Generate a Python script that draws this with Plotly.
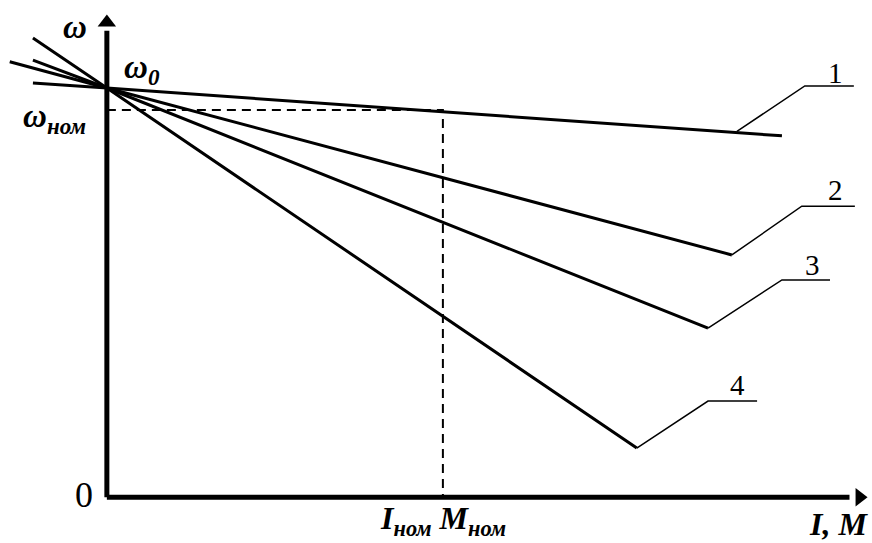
import plotly.graph_objects as go

# characteristic lines (I in units of I_nom, omega in units of omega_0)
line_I = {
    "1": [-0.22, 0.0, 2.009],
    "2": [-0.289, 0.0, 1.860],
    "3": [-0.22, 0.0, 1.789],
    "4": [-0.22, 0.0, 1.577],
}
line_w = {
    "1": [1.012, 1.0, 0.883],
    "2": [1.064, 1.0, 0.592],
    "3": [1.068, 1.0, 0.413],
    "4": [1.122, 1.0, 0.120],
}
# leader lines to the curve numbers
leader_I = {
    "1": [1.875, 2.077, 2.223],
    "2": [1.860, 2.068, 2.226],
    "3": [1.789, 2.009, 2.152],
    "4": [1.577, 1.789, 1.935],
}
leader_w = {
    "1": [0.894, 1.005, 1.005],
    "2": [0.592, 0.711, 0.711],
    "3": [0.413, 0.531, 0.531],
    "4": [0.120, 0.235, 0.235],
}
label_pos = {"1": (2.167, 1.037), "2": (2.167, 0.751), "3": (2.101, 0.567), "4": (1.878, 0.274)}

I_nom = 1.0
w_nom = 0.946
I_max = 2.24
w_max = 1.16

FONT = "Liberation Serif"

fig = go.Figure()

# axes
fig.add_trace(go.Scatter(x=[0, 0], y=[0, w_max - 0.02], mode="lines",
                         line=dict(color="black", width=5), showlegend=False, hoverinfo="skip"))
fig.add_trace(go.Scatter(x=[0, I_max - 0.03], y=[0, 0], mode="lines",
                         line=dict(color="black", width=5), showlegend=False, hoverinfo="skip"))
fig.add_trace(go.Scatter(x=[0], y=[w_max], mode="markers",
                         marker=dict(symbol="triangle-up", size=16, color="black"),
                         showlegend=False, hoverinfo="skip"))
fig.add_trace(go.Scatter(x=[I_max], y=[0], mode="markers",
                         marker=dict(symbol="triangle-right", size=16, color="black"),
                         showlegend=False, hoverinfo="skip"))

# nominal point dashed guide
fig.add_trace(go.Scatter(x=[0, I_nom, I_nom], y=[w_nom, w_nom, 0], mode="lines",
                         line=dict(color="black", width=2, dash="9px,6px"),
                         showlegend=False, hoverinfo="skip"))

for k in line_I:
    fig.add_trace(go.Scatter(x=line_I[k], y=line_w[k], mode="lines",
                             line=dict(color="black", width=3), showlegend=False))
    fig.add_trace(go.Scatter(x=leader_I[k], y=leader_w[k], mode="lines",
                             line=dict(color="black", width=1.5), showlegend=False,
                             hoverinfo="skip"))
    fig.add_annotation(x=label_pos[k][0], y=label_pos[k][1], text=k, showarrow=False,
                       font=dict(family=FONT, size=29, color="black"))

bi = dict(family=FONT, size=33, color="black")
fig.add_annotation(x=-0.095, y=1.149, text="<b><i>ω</i></b>", showarrow=False, font=bi)
fig.add_annotation(x=0.045, y=1.045, text="<b><i>ω<sub>0</sub></i></b>", showarrow=False,
                   font=bi, xanchor="left")
fig.add_annotation(x=-0.255, y=0.925, text="<b><i>ω<sub>ном</sub></i></b>", showarrow=False,
                   font=bi, xanchor="left")
fig.add_annotation(x=-0.068, y=0.005, text="0", showarrow=False,
                   font=dict(family=FONT, size=36, color="black"))
fig.add_annotation(x=I_nom, y=-0.056, text="<b><i>I<sub>ном</sub> M<sub>ном</sub></i></b>",
                   showarrow=False, font=dict(family=FONT, size=32, color="black"))
fig.add_annotation(x=2.272, y=-0.066, text="<b><i>I, M</i></b>", showarrow=False,
                   font=dict(family=FONT, size=32, color="black"), xanchor="right")

fig.update_xaxes(visible=False, range=[-0.318, 2.277])
fig.update_yaxes(visible=False, range=[-0.112, 1.215])
fig.update_layout(width=872, height=543, margin=dict(l=0, r=0, t=0, b=0),
                  paper_bgcolor="white", plot_bgcolor="white")

fig.write_html("out.html", config={"displayModeBar": False},
               post_script="document.body.style.margin='0';")
